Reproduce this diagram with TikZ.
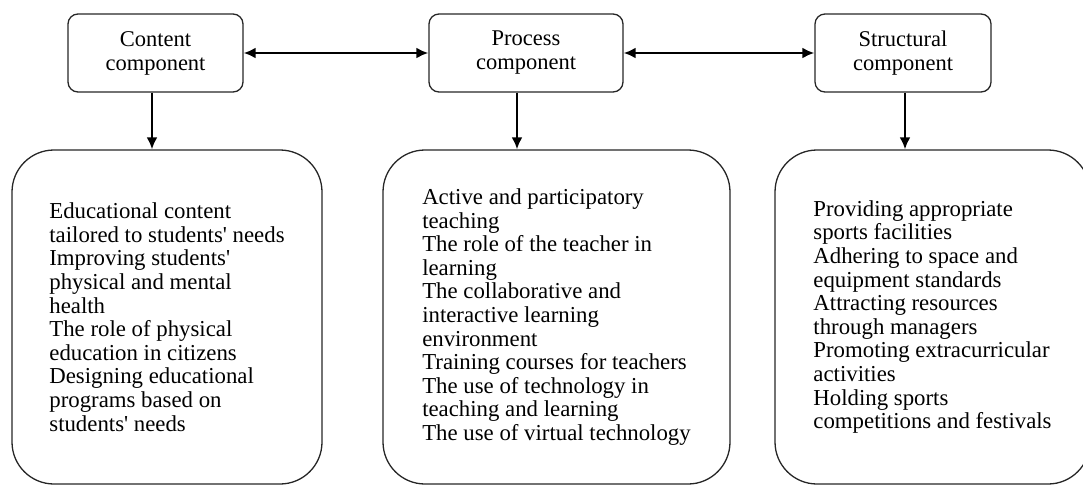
\documentclass[tikz,border=0pt]{standalone}
\usepackage{fontspec}
\setmainfont{Liberation Serif}
\usetikzlibrary{arrows.meta, positioning}

\begin{document}
\begin{tikzpicture}
	[x=1pt, y=-1pt, >={Latex[length=12pt,width=11pt]},
	 comp/.style={draw=black!85, line width=1.3pt, rounded corners=10pt, align=center,
	   minimum height=78pt, inner sep=0pt, font=\fontsize{22.5}{24}\selectfont},
	 items/.style={draw=black!85, line width=1.3pt, rounded corners=42pt, align=left,
	   minimum height=334pt, inner sep=0pt, font=\fontsize{22.8}{23.6}\selectfont},
	 link/.style={line width=2.4pt}]
   \useasboundingbox (0,0) rectangle (1083,485);
   \clip (0,0) rectangle (1083,485);
   % components
   \node[comp, minimum width=175pt] (content) at (155.5,53) {Content\\component};
   \node[comp, minimum width=194pt] (process) at (526,53) {Process\\component};
   \node[comp, minimum width=176pt] (structural) at (903,53) {Structural\\component};
   % lists
   \node[items, minimum width=310pt] (contentlist) at (167,317)
     {Educational content\\tailored to students\textquotesingle{} needs\\Improving students\textquotesingle\\physical and mental\\health\\The role of physical\\education in citizens\\Designing educational\\programs based on\\students\textquotesingle{} needs};
   \node[items, minimum width=347pt] (processlist) at (556.5,317)
     {Active and participatory\\teaching\\The role of the teacher in\\learning\\The collaborative and\\interactive learning\\environment\\Training courses for teachers\\The use of technology in\\teaching and learning\\The use of virtual technology};
   \node[items, minimum width=315pt] (structurallist) at (932.5,317)
     {Providing appropriate\\sports facilities\\Adhering to space and\\equipment standards\\Attracting resources\\through managers\\Promoting extracurricular\\activities\\Holding sports\\competitions and festivals};
   % arrows
   \draw[link, <->] (content) -- (process);
   \draw[link, <->] (process) -- (structural);
   \draw[link, ->] ([xshift=-3.5pt]content.south) -- ([xshift=-3.5pt]content.south |- contentlist.north);
   \draw[link, ->] ([xshift=-9pt]process.south) -- ([xshift=-9pt]process.south |- processlist.north);
   \draw[link, ->] ([xshift=2pt]structural.south) -- ([xshift=2pt]structural.south |- structurallist.north);
\end{tikzpicture}
\end{document}
